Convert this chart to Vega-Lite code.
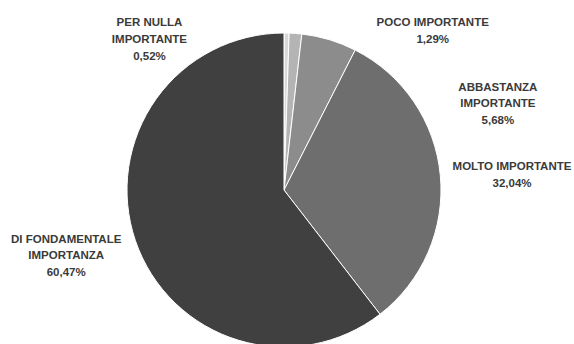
{
  "$schema": "https://vega.github.io/schema/vega-lite/v6.json",
  "width": 568,
  "height": 308,
  "autosize": {"type": "none"},
  "padding": {"left": 0, "top": 36, "right": 6, "bottom": 0},
  "background": "white",
  "config": {"view": {"stroke": null}},
  "data": {"values": [
    {"ord": 1, "cat": "PER NULLA\nIMPORTANTE", "value": 0.52},
    {"ord": 2, "cat": "POCO IMPORTANTE", "value": 1.29},
    {"ord": 3, "cat": "ABBASTANZA\nIMPORTANTE", "value": 5.68},
    {"ord": 4, "cat": "MOLTO IMPORTANTE", "value": 32.04},
    {"ord": 5, "cat": "DI FONDAMENTALE\nIMPORTANZA", "value": 60.47}
  ]},
  "transform": [
    {"window": [{"op": "sum", "field": "value", "as": "cum"}], "sort": [{"field": "ord"}], "frame": [null, 0]},
    {"calculate": "datum.cum - datum.value/2", "as": "mid"},
    {"calculate": "datum.cat + '\\n' + replace(format(datum.value, '.2f'), '.', ',') + '%'", "as": "label"}
  ],
  "layer": [
    {
      "mark": {"type": "arc", "outerRadius": 157, "stroke": "white", "strokeWidth": 1},
      "encoding": {
        "theta": {"field": "value", "type": "quantitative", "stack": true, "scale": {"domain": [0, 100]}},
        "order": {"field": "ord"},
        "color": {"field": "ord", "type": "ordinal", "legend": null,
          "scale": {"domain": [1, 2, 3, 4, 5], "range": ["#d9d9d9", "#b4b4b4", "#8c8c8c", "#6e6e6e", "#404040"]}}
      }
    },
    {
      "transform": [{"filter": "datum.ord == 1"}],
      "mark": {"type": "text", "radius": 150, "dx": -137, "dy": -17, "font": "Liberation Sans", "fontWeight": "bold", "fontSize": 11.5, "lineHeight": 17, "lineBreak": "\n", "align": "center", "baseline": "middle", "color": "#3a3a3a"},
      "encoding": {"theta": {"field": "mid", "type": "quantitative", "stack": null}, "text": {"field": "label"}}
    },
    {
      "transform": [{"filter": "datum.ord == 2"}],
      "mark": {"type": "text", "radius": 160, "dx": 137, "dy": -7, "font": "Liberation Sans", "fontWeight": "bold", "fontSize": 11.5, "lineHeight": 17, "lineBreak": "\n", "align": "center", "baseline": "middle", "color": "#3a3a3a"},
      "encoding": {"theta": {"field": "mid", "type": "quantitative", "stack": null}, "text": {"field": "label"}}
    },
    {
      "transform": [{"filter": "datum.ord == 3"}],
      "mark": {"type": "text", "radius": 180, "dx": 162, "dy": 70, "font": "Liberation Sans", "fontWeight": "bold", "fontSize": 11.5, "lineHeight": 16.5, "lineBreak": "\n", "align": "center", "baseline": "middle", "color": "#3a3a3a"},
      "encoding": {"theta": {"field": "mid", "type": "quantitative", "stack": null}, "text": {"field": "label"}}
    },
    {
      "transform": [{"filter": "datum.ord == 4"}],
      "mark": {"type": "text", "radius": 228, "dx": 1, "dy": -2, "font": "Liberation Sans", "fontWeight": "bold", "fontSize": 11.5, "lineHeight": 17, "lineBreak": "\n", "align": "center", "baseline": "middle", "color": "#3a3a3a"},
      "encoding": {"theta": {"field": "mid", "type": "quantitative", "stack": null}, "text": {"field": "label"}}
    },
    {
      "transform": [{"filter": "datum.ord == 5"}],
      "mark": {"type": "text", "radius": 228, "dx": -2, "dy": -24, "font": "Liberation Sans", "fontWeight": "bold", "fontSize": 11.5, "lineHeight": 16.5, "lineBreak": "\n", "align": "center", "baseline": "middle", "color": "#3a3a3a"},
      "encoding": {"theta": {"field": "mid", "type": "quantitative", "stack": null}, "text": {"field": "label"}}
    }
  ]
}
